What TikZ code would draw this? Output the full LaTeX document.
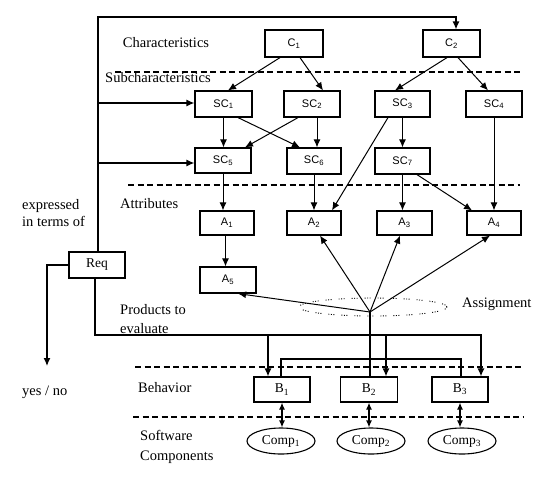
\documentclass[tikz,border=0pt]{standalone}
\usepackage{fontspec}
\setmainfont{Liberation Serif}
\newfontfamily\boxsans{Liberation Sans}
\usetikzlibrary{arrows.meta,calc,shapes.geometric}
\begin{document}
\begin{tikzpicture}[x=1pt,y=-1pt,
  box/.style={draw,line width=1.2pt,inner sep=0pt,minimum height=26pt,font=\fontsize{13.5}{13.5}\selectfont},
  sbox/.style={box,font=\boxsans\fontsize{11}{11}\selectfont},
  lab/.style={font=\fontsize{14.5}{18}\selectfont,inner sep=0pt,align=left},
  conn/.style={line width=1pt,-{Latex[length=8pt,width=7pt]}},
  ln/.style={line width=1.2pt},
  dbl/.style={line width=1.2pt,{Latex[length=7pt,width=6pt]}-{Latex[length=7pt,width=6pt]}},
  sep/.style={line width=1.1pt,dash pattern=on 6pt off 3.5pt},
  comp/.style={draw,ellipse,line width=1.1pt,minimum width=68pt,minimum height=26pt,inner sep=0pt,font=\fontsize{13.5}{13.5}\selectfont},
]
\useasboundingbox (0,0) rectangle (559,480);

% separators
\draw[sep] (115,72) -- (523,72);
\draw[sep] (128,185) -- (520,185);
\draw[sep] (135,367) -- (523,367);
\draw[sep] (133,417) -- (523,417);

% labels
\node[lab] (lchar) at (166,43) {Characteristics};
\node[lab,anchor=west] (lsub) at (105,78) {Subcharacteristics};
\node[lab,anchor=west] (lattr) at (120,204) {Attributes};
\node[lab,anchor=west,font=\fontsize{14.5}{17}\selectfont] (lexp) at (22,213.5) {expressed\\in terms of};
\node[lab,anchor=west,font=\fontsize{14.5}{19}\selectfont] (lprod) at (120,319.5) {Products to\\evaluate};
\node[lab,anchor=west] (lbeh) at (138,388) {Behavior};
\node[lab,anchor=west,font=\fontsize{14.5}{20}\selectfont] (lsw) at (140,447) {Software\\Components};
\node[lab,anchor=west] (lyes) at (22,392) {yes / no};
\node[lab,anchor=west] (lasg) at (462,304) {Assignment};

% boxes
\node[sbox,minimum width=58pt,minimum height=27pt] (C1) at (294,43.5) {C\textsubscript{1}};
\node[sbox,minimum width=57pt,minimum height=27pt] (C2) at (451.5,43.5) {C\textsubscript{2}};
\node[sbox,minimum width=57pt] (SC1) at (223.5,104) {SC\textsubscript{1}};
\node[sbox,minimum width=56pt] (SC2) at (312,104) {SC\textsubscript{2}};
\node[sbox,minimum width=55pt] (SC3) at (402.5,104) {SC\textsubscript{3}};
\node[sbox,minimum width=56pt] (SC4) at (494,104) {SC\textsubscript{4}};
\node[sbox,minimum width=56pt,minimum height=25pt] (SC5) at (223,160.5) {SC\textsubscript{5}};
\node[sbox,minimum width=54pt] (SC6) at (314,161) {SC\textsubscript{6}};
\node[sbox,minimum width=55pt] (SC7) at (402.5,161) {SC\textsubscript{7}};
\node[sbox,minimum width=54pt,minimum height=24pt] (A1) at (227,223) {A\textsubscript{1}};
\node[sbox,minimum width=54pt,minimum height=24pt] (A2) at (314,223) {A\textsubscript{2}};
\node[sbox,minimum width=55pt,minimum height=24pt] (A3) at (404.5,223) {A\textsubscript{3}};
\node[sbox,minimum width=54pt,minimum height=24pt] (A4) at (494,223) {A\textsubscript{4}};
\node[sbox,minimum width=56pt] (A5) at (228,280) {A\textsubscript{5}};
\node[box,minimum width=56pt] (Req) at (97,265) {Req};
\node[box,minimum width=56pt,minimum height=25pt] (B1) at (282,389.5) {B\textsubscript{1}};
\node[box,minimum width=57pt,minimum height=25pt] (B2) at (369,389.5) {B\textsubscript{2}};
\node[box,minimum width=56pt,minimum height=25pt] (B3) at (460,389.5) {B\textsubscript{3}};
\node[comp] (Comp1) at (281,441) {Comp\textsubscript{1}};
\node[comp] (Comp2) at (371,441) {Comp\textsubscript{2}};
\node[comp] (Comp3) at (462,441) {Comp\textsubscript{3}};

% assignment
\node[draw,ellipse,line width=0.9pt,dash pattern=on 1pt off 1.5pt on 1pt off 1.5pt on 1pt off 7pt,minimum width=148pt,minimum height=18pt,inner sep=0pt] (asg) at (373,307) {};
\coordinate (P) at (370,312);

% frame from Req
\coordinate (tl) at (98,17);
\draw[conn,line width=1.2pt] ($(Req.north)+(1,0)$) -- (tl) -| ($(C2.north)+(4.5,0)$);
\coordinate (f1) at (98,103);
\coordinate (f2) at (98,163);
\draw[conn,line width=1.2pt] (f1) -- (f1 -| SC1.west);
\draw[conn,line width=1.2pt] (f2) -- (f2 -| SC5.west);

% characteristics -> subcharacteristics
\draw[conn] ($(C1.south)+(-14,0)$) -- ($(SC1.north)+(4.5,0)$);
\draw[conn] ($(C1.south)+(6,0)$) -- ($(SC2.north)+(11,0)$);
\draw[conn] ($(C2.south)+(-4.5,0)$) -- ($(SC3.north)+(-7.5,0)$);
\draw[conn] ($(C2.south)+(6.5,0)$) -- ($(SC4.north)+(-6,0)$);

% subcharacteristics
\draw[conn] (SC1.south) -- (SC1.south |- SC5.north);
\draw[conn] ($(SC1.south)+(14.5,0)$) -- ($(SC6.north)+(-14,0)$);
\draw[conn] ($(SC2.south)+(-14,0)$) -- ($(SC5.north)+(22,0)$);
\draw[conn] ($(SC2.south)+(5,0)$) -- ($(SC6.north)+(3,0)$);
\draw[conn] (SC3.south) -- (SC3.south |- SC7.north);

% to attributes
\draw[conn] ($(SC3.south)+(-14.5,0)$) -- ($(A2.north)+(18,0)$);
\draw[conn] (SC4.south) -- (A4.north);
\draw[conn] (SC5.south) -- (SC5.south |- A1.north);
\draw[conn] (SC6.south) -- (SC6.south |- A2.north);
\draw[conn] (SC7.south) -- (SC7.south |- A3.north);
\draw[conn] ($(SC7.south)+(14.5,0)$) -- ($(A4.north)+(-22,0)$);
\draw[conn] ($(A1.south)+(-1.5,0)$) -- ($(A1.south |- A5.north)+(-1.5,0)$);

% assignment arrows
\draw[conn] (P) -- ($(A2.south)+(6,0)$);
\draw[conn] (P) -- ($(A3.south)+(-4.5,0)$);
\draw[conn] (P) -- ($(A4.south)+(-4,0)$);
\draw[conn] (P) -- ($(A5.south)+(10,0)$);
\draw[ln] (P) -- (P |- B2.north);

% Req outputs
\coordinate (yn) at (47,366);
\draw[conn,line width=1.2pt] (Req.west) -| (yn);
\coordinate (pe) at (95,335);
\draw[conn,line width=1.2pt] ($(Req.south)+(-2,0)$) -- (pe) -| ($(B3.north)+(21,0)$);
\draw[conn,line width=1.2pt] ($(pe -| B1.north)+(-14,0)$) -- ($(B1.north)+(-14,0)$);
\draw[conn,line width=1.2pt] ($(pe -| B2.north)+(17,0)$) -- ($(B2.north)+(17,0)$);
\coordinate (br) at (281,359);
\draw[ln] ($(B1.north)+(-1,0)$) -- (br) -| ($(B3.north)+(1,0)$);

% behavior <-> components
\draw[dbl] (B1.south) -- (B1.south |- Comp1.north);
\draw[dbl] (B2.south) -- (B2.south |- Comp2.north);
\draw[dbl] (B3.south) -- (B3.south |- Comp3.north);
\end{tikzpicture}
\end{document}
